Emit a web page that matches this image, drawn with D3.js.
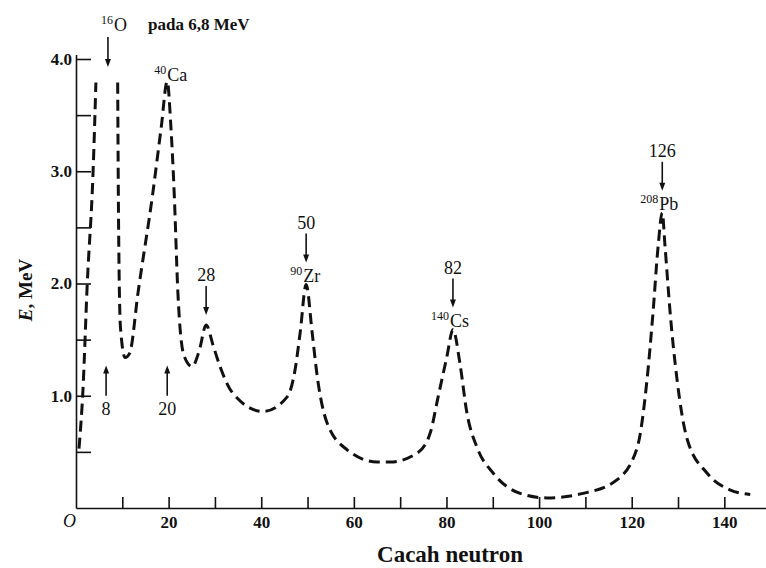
<!DOCTYPE html>
<html>
<head>
<meta charset="utf-8">
<script src="https://cdn.jsdelivr.net/npm/d3@7"></script>
<style>
  body { margin: 0; background: #fff; }
  svg { display: block; }
  text { font-family: "Liberation Serif", "DejaVu Serif", serif; fill: #111; }
</style>
</head>
<body>
<div id="chart"></div>
<script>
// neutron number vs excitation energy (MeV)
// left branch up to the 16O peak (goes off the top, peak at 6.8 MeV)
var branchN = [0.65, 1.5, 2.4, 3.7, 4.3];
var branchE = [0.53, 1.05, 1.97, 3.01, 3.79];

// rest of the curve, after the 16O peak
var curveN = [9.0, 9.2, 9.6, 10.6, 11.6, 13.4, 16.6, 18.4, 19.7, 20.5, 21.2, 22.0, 23.3, 25.1, 26.6, 28.1,
  29.6, 31.1, 33.9, 40.4, 45.6, 47.3, 48.4, 49.7, 51.0, 52.1, 54.2, 58.5, 65.0, 67.8, 73.7, 76.5,
  78.2, 80.1, 81.4, 82.9, 84.4, 86.6, 90.1, 95.9, 101.7, 109.5, 116.8, 121.2, 123.3, 124.6,
  125.7, 126.6, 127.2, 128.3, 129.8, 132.0, 136.3, 141.3, 145.6];
var curveE = [3.79, 2.50, 1.61, 1.34, 1.38, 1.92, 2.81, 3.39, 3.80, 3.39, 2.81, 1.92, 1.36, 1.26, 1.40, 1.63,
  1.45, 1.26, 1.02, 0.86, 0.99, 1.23, 1.56, 1.99, 1.56, 1.17, 0.76, 0.52, 0.41, 0.41, 0.49, 0.67,
  0.99, 1.35, 1.59, 1.29, 0.85, 0.54, 0.31, 0.13, 0.09, 0.13, 0.25, 0.54, 1.14, 1.74,
  2.33, 2.63, 2.33, 1.74, 1.14, 0.61, 0.31, 0.16, 0.12];

// magic numbers pointing down at the peaks
var magicLabels = ["28", "50", "82", "126"];
var magicN = [28.1, 49.7, 81.4, 126.6];
var magicE = [1.63, 1.99, 1.59, 2.63];
var isoMass = ["", "90", "140", "208"];
var isoName = ["", "Zr", "Cs", "Pb"];

// magic numbers pointing up from below
var lowLabels = ["8", "20"];
var lowN = [6.5, 19.7];

var xTicks = [10, 20, 30, 40, 50, 60, 70, 80, 90, 100, 110, 120, 130, 140];
var yTicks = [0.5, 1.0, 1.5, 2.0, 2.5, 3.0, 3.5, 4.0];

var svgWidth = 766, svgHeight = 568;

var svg = d3.select("#chart").append("svg")
  .attr("width", svgWidth)
  .attr("height", svgHeight);

var x = d3.scaleLinear().domain([0, 149]).range([76, 766]);
var y = d3.scaleLinear().domain([0, 4.04]).range([508, 508 - 4.04 * 112.25]);

// x axis, ticks pointing up
var xAxis = d3.axisBottom(x)
  .tickValues(xTicks)
  .tickSizeInner(-11)
  .tickSizeOuter(0)
  .tickPadding(8)
  .tickFormat(d => d % 20 === 0 ? d : "");

svg.append("g")
  .attr("transform", "translate(0," + y(0) + ")")
  .call(xAxis);

// y axis, ticks pointing right
var yAxis = d3.axisLeft(y)
  .tickValues(yTicks)
  .tickSizeInner(-15)
  .tickSizeOuter(0)
  .tickPadding(4)
  .tickFormat(d => Number.isInteger(d) ? d.toFixed(1) : "");

svg.append("g")
  .attr("transform", "translate(" + x(0) + ",0)")
  .call(yAxis);

svg.selectAll(".domain, .tick line")
  .attr("stroke", "#111")
  .attr("stroke-width", 1.6);

svg.selectAll(".tick text")
  .style("font-family", "'Liberation Serif', serif")
  .style("font-size", "17px")
  .style("font-weight", "bold")
  .attr("fill", "#111");

// origin
svg.append("text")
  .attr("x", 63)
  .attr("y", 527)
  .style("font-size", "18px")
  .style("font-style", "italic")
  .text("O");

// axis titles
svg.append("text")
  .attr("x", 450)
  .attr("y", 562)
  .attr("text-anchor", "middle")
  .style("font-size", "23px")
  .style("font-weight", "bold")
  .text("Cacah neutron");

var yTitle = svg.append("text")
  .attr("transform", "translate(32,290) rotate(-90)")
  .attr("text-anchor", "middle")
  .style("font-size", "19px")
  .style("font-weight", "bold");
yTitle.append("tspan").style("font-style", "italic").text("E");
yTitle.append("tspan").text(", MeV");

// the dashed curve
var line = d3.line()
  .x(d => x(d[0]))
  .y(d => y(d[1]))
  .curve(d3.curveMonotoneX);

var branch = branchN.map((n, i) => [n, branchE[i]]);
var curve = curveN.map((n, i) => [n, curveE[i]]);

[branch, curve].forEach(function(pts) {
  svg.append("path")
    .datum(pts)
    .attr("d", line)
    .attr("fill", "none")
    .attr("stroke", "#111")
    .attr("stroke-width", 3)
    .attr("stroke-dasharray", "11,6");
});

// arrow helper: line with filled head at (x2,y2)
function arrow(x1, y1, x2, y2) {
  var dir = y2 > y1 ? 1 : -1;
  svg.append("line")
    .attr("x1", x1).attr("y1", y1)
    .attr("x2", x2).attr("y2", y2 - dir * 6)
    .attr("stroke", "#111")
    .attr("stroke-width", 1.6);
  svg.append("path")
    .attr("d", "M" + (x2 - 3) + "," + (y2 - dir * 8) + "L" + (x2 + 3) + "," + (y2 - dir * 8) + "L" + x2 + "," + y2 + "Z")
    .attr("fill", "#111");
}

// isotope label with a superscript mass number, element starting at px
function isotope(px, baseline, mass, name) {
  svg.append("text")
    .attr("x", px - 1)
    .attr("y", baseline - 7)
    .attr("text-anchor", "end")
    .style("font-size", "12px")
    .text(mass);
  svg.append("text")
    .attr("x", px)
    .attr("y", baseline)
    .style("font-size", "18px")
    .text(name);
}

// magic numbers at the peaks
magicLabels.forEach(function(lab, i) {
  var px = x(magicN[i]);
  var peakY = y(magicE[i]);
  var arrowEnd = isoName[i] ? peakY - 22 : peakY - 10;
  var arrowStart = arrowEnd - 29;
  arrow(px, arrowStart, px, arrowEnd);
  svg.append("text")
    .attr("x", px)
    .attr("y", arrowStart - 5)
    .attr("text-anchor", "middle")
    .style("font-size", "18px")
    .text(lab);
  if (isoName[i]) isotope(px - 3, peakY - 3, isoMass[i], isoName[i]);
});

// 40Ca at the second peak
isotope(x(19.7), y(3.80), "40", "Ca");

// 16O, peak off the chart
var oX = x(6.9);
arrow(oX, 37, oX, 67);
isotope(oX + 6, 31, "16", "O");
svg.append("text")
  .attr("x", 148)
  .attr("y", 30)
  .style("font-size", "17px")
  .style("font-weight", "bold")
  .text("pada 6,8 MeV");

// 8 and 20 from below
lowLabels.forEach(function(lab, i) {
  var px = x(lowN[i]);
  arrow(px, y(1.0), px, y(1.27));
  svg.append("text")
    .attr("x", px)
    .attr("y", y(0.83))
    .attr("text-anchor", "middle")
    .style("font-size", "18px")
    .text(lab);
});
</script>
</body>
</html>
